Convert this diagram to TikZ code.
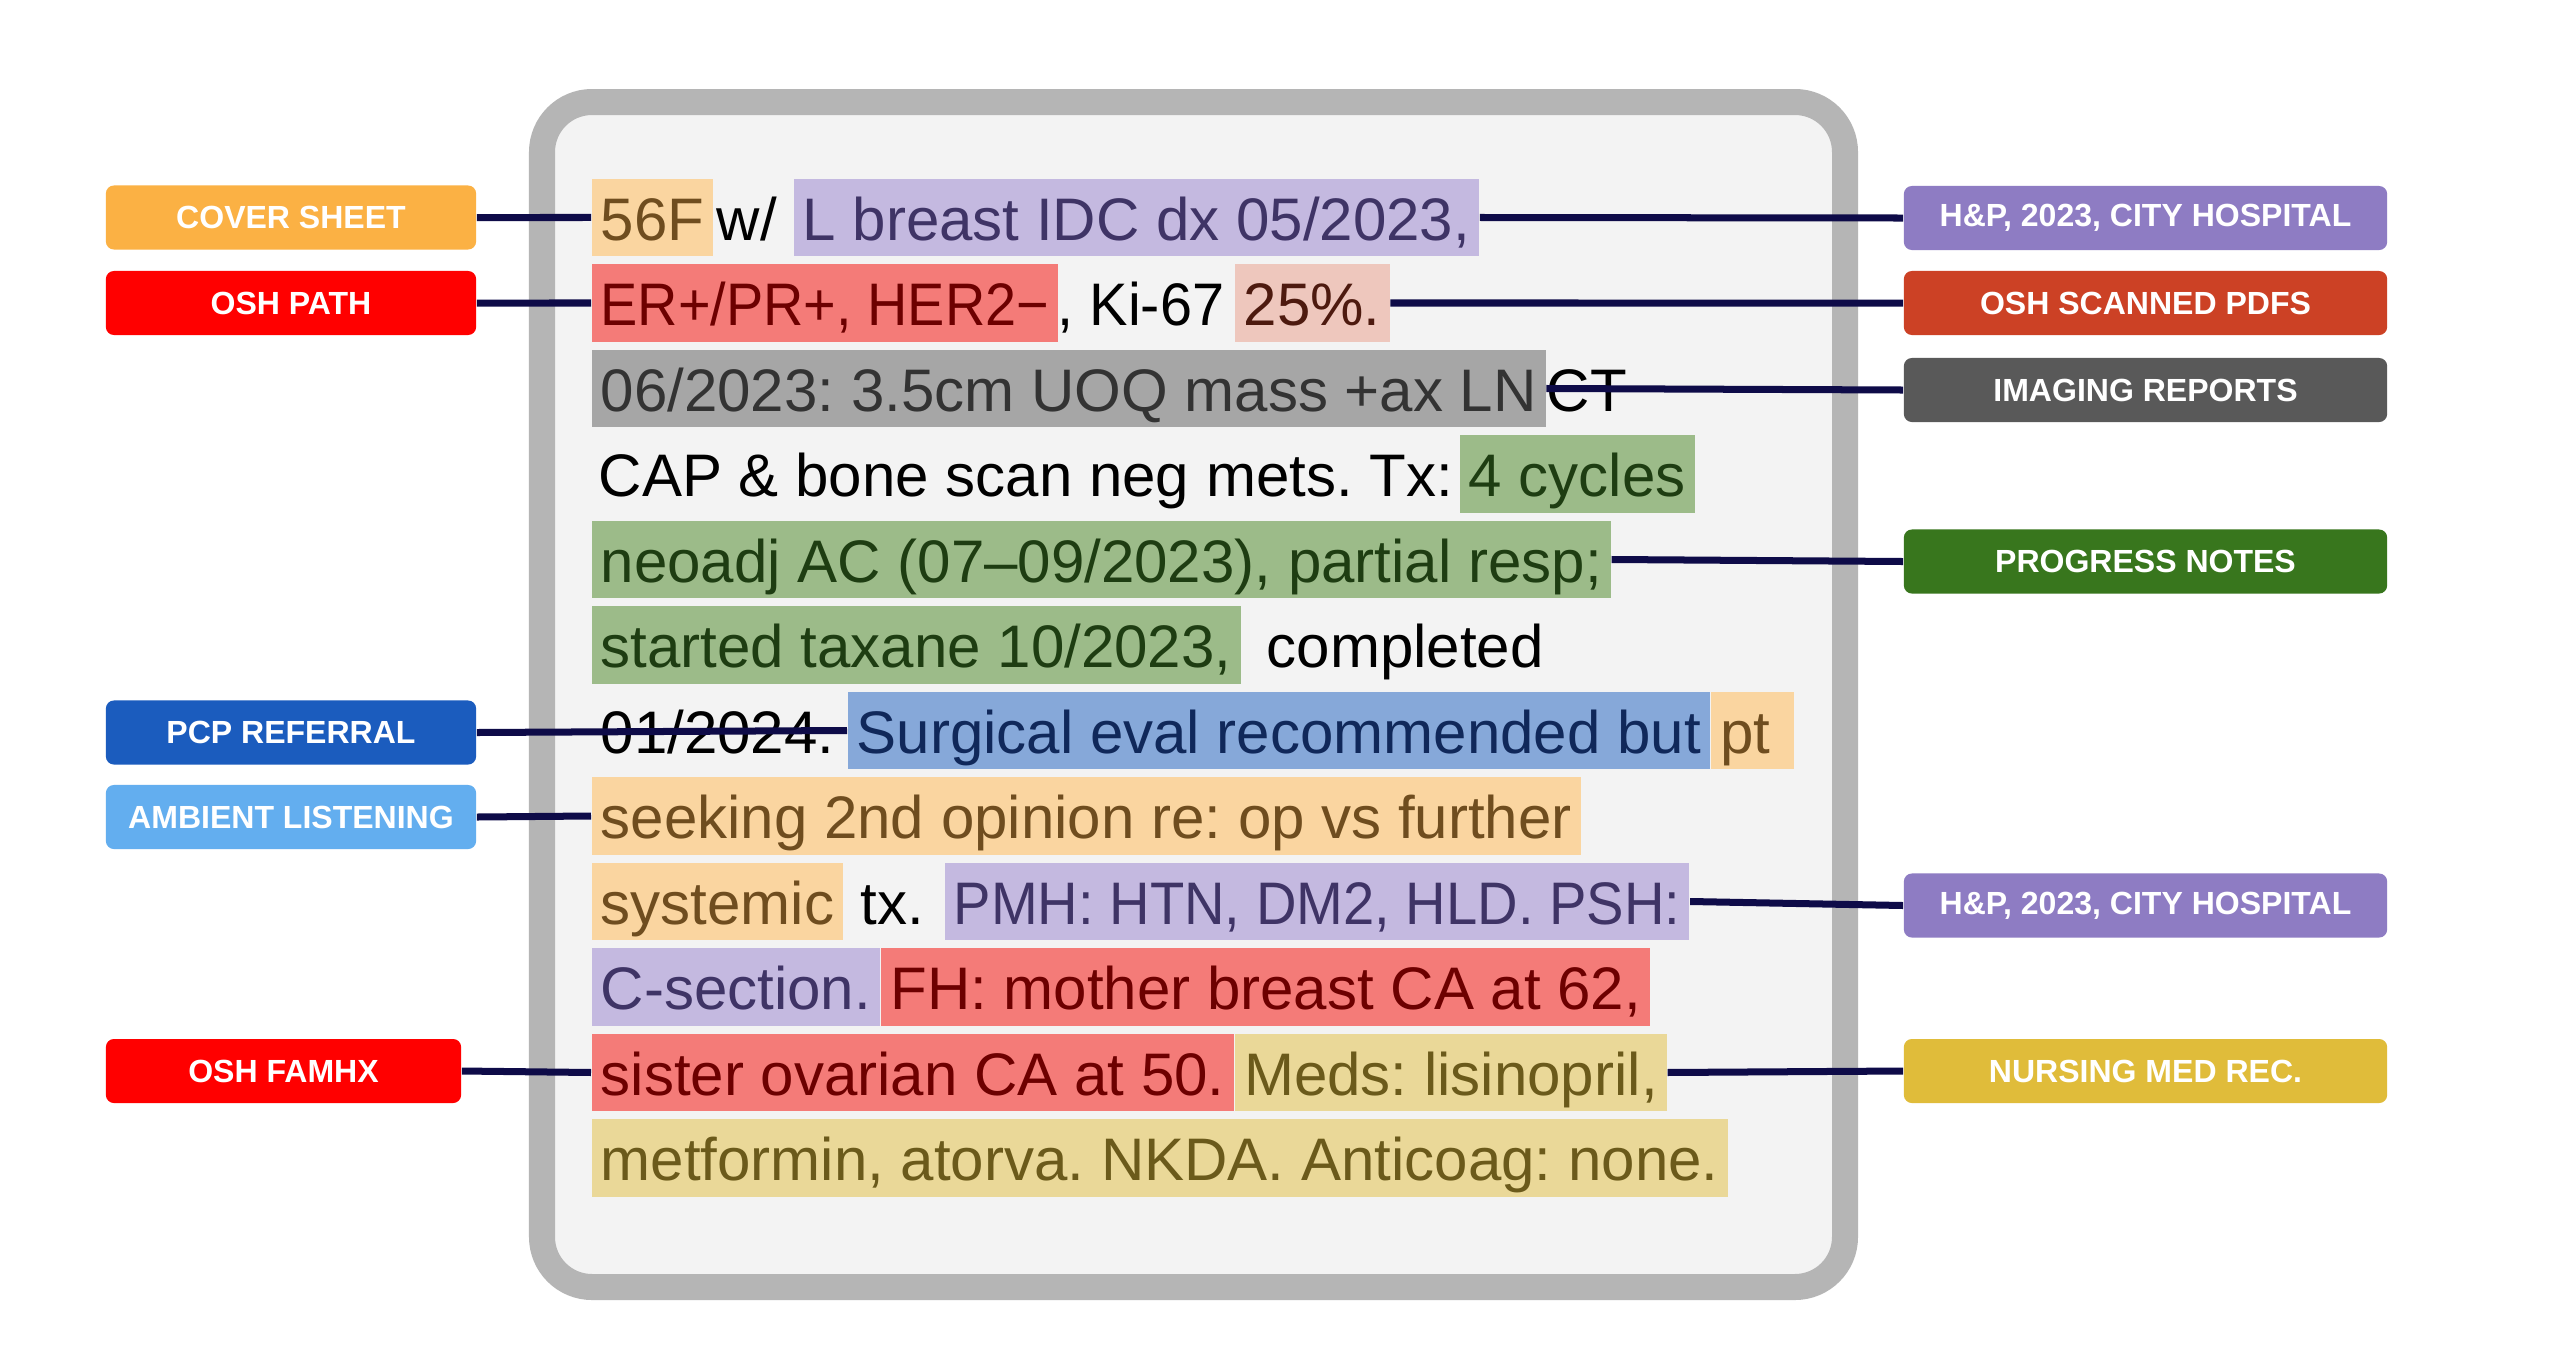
\documentclass[tikz,border=0pt]{standalone}
\usepackage{fontspec}
\usepackage{graphicx}
\setmainfont{Liberation Sans}
\usetikzlibrary{positioning}
\definecolor{frame}{HTML}{B5B5B5}
\definecolor{paper}{HTML}{F3F3F3}
\definecolor{conncol}{HTML}{0E0B48}
\definecolor{hlOr}{HTML}{FAD5A0}
\definecolor{txOr}{HTML}{6F4D1F}
\definecolor{hlLav}{HTML}{C4B9E0}
\definecolor{txLav}{HTML}{3F3466}
\definecolor{hlRed}{HTML}{F47B78}
\definecolor{txRed}{HTML}{6D0000}
\definecolor{hlPink}{HTML}{EEC7BD}
\definecolor{txPink}{HTML}{4D1A0F}
\definecolor{hlGray}{HTML}{A6A6A6}
\definecolor{txGray}{HTML}{333333}
\definecolor{hlGreen}{HTML}{9CBB89}
\definecolor{txGreen}{HTML}{1E3D12}
\definecolor{hlBlue}{HTML}{86A8D9}
\definecolor{txBlue}{HTML}{10285A}
\definecolor{hlKhaki}{HTML}{EAD898}
\definecolor{txKhaki}{HTML}{6B5A1B}
\definecolor{cCover}{HTML}{FBB144}
\definecolor{cRed}{HTML}{FF0000}
\definecolor{cPcp}{HTML}{1B5CBE}
\definecolor{cAmb}{HTML}{63AEEF}
\definecolor{cHP}{HTML}{8E7CC3}
\definecolor{cPdf}{HTML}{CC4125}
\definecolor{cImg}{HTML}{595959}
\definecolor{cProg}{HTML}{38761D}
\definecolor{cNurse}{HTML}{E0BC3A}
\newcommand\mybody{\fontsize{0.6cm}{0.72cm}\selectfont\frenchspacing}
\newcommand\mylbl{\fontsize{0.32cm}{0.4cm}\selectfont\bfseries}
\tikzset{
  seg/.style={inner xsep=0pt, inner ysep=0pt, text height=0.61cm, text depth=0.16cm, anchor=base west, font=\mybody},
  hl/.style 2 args={seg, inner xsep=0.09cm, fill=#1, text=#2},
  plain/.style={seg, text=black},
  lbl/.style={rounded corners=0.08cm, minimum height=0.64cm, text=white, font=\mylbl, inner sep=0pt},
  lleft/.style={lbl, minimum width=3.7cm},
  lright/.style={lbl, minimum width=4.83cm},
  conn/.style={draw=conncol, line width=0.07cm},
}
\begin{document}
\begin{tikzpicture}[x=0.01cm,y=-0.01cm]
\useasboundingbox[fill=white] (0,0) rectangle (2560,1369);
\draw[line width=0.26cm, draw=frame, fill=paper, rounded corners=0.5cm] (542,102) rectangle (1845,1287);

% line 1
\node[hl={hlOr}{txOr}] (a1) at (591,240) {56F};
\node[plain] (a2) at (716,240) {w/};
\node[hl={hlLav}{txLav}] (a3) at (793,240) {L breast IDC dx 05/2023,};
% line 2
\node[hl={hlRed}{txRed}] (b1) at (591,325.5) {\scalebox{0.93}[1]{ER+/PR+, HER2−}};
\node[plain] (b2) at (1057,325.5) {\scalebox{0.96}[1]{, Ki-67}};
\node[hl={hlPink}{txPink}] (b3) at (1234,325.5) {25\%.};
% line 3
\node[hl={hlGray}{txGray}] (c1) at (591,411) {06/2023: 3.5cm UOQ mass +ax LN};
\node[plain] (c2) at (1546,411) {CT};
% line 4
\node[plain] (d1) at (598,496.5) {CAP \& bone scan neg mets. Tx:};
\node[hl={hlGreen}{txGreen}] (d2) at (1459,496.5) {4 cycles};
% line 5
\node[hl={hlGreen}{txGreen}] (e1) at (591,582) {neoadj AC (07–09/2023), partial resp;};
% line 6
\node[hl={hlGreen}{txGreen}] (f1) at (591,667.5) {started taxane 10/2023,};
\node[plain] (f2) at (1266,667.5) {completed};
% line 7
\node[plain] (g1) at (600,753) {01/2024.};
\node[hl={hlBlue}{txBlue}] (g2) at (847,753) {Surgical eval recommended but};
\node[hl={hlOr}{txOr}] (g3) at (g2.base east) {pt\hspace*{0.14cm}};
% line 8
\node[hl={hlOr}{txOr}] (h1) at (591,838.5) {seeking 2nd opinion re: op vs further};
% line 9
\node[hl={hlOr}{txOr}] (i1) at (591,924) {systemic};
\node[plain] (i2) at (860,924) {tx.};
\node[hl={hlLav}{txLav}] (i3) at (944,924) {\scalebox{0.935}[1]{PMH: HTN, DM2, HLD. PSH:}};
% line 10
\node[hl={hlLav}{txLav}] (j1) at (591,1009.5) {C-section.};
\node[hl={hlRed}{txRed}] (j2) at (j1.base east) {FH: mother breast CA at 62,};
% line 11
\node[hl={hlRed}{txRed}] (k1) at (591,1095) {sister ovarian CA at 50.};
\node[hl={hlKhaki}{txKhaki}] (k2) at (k1.base east) {Meds: lisinopril,};
% line 12
\node[hl={hlKhaki}{txKhaki}] (l1) at (591,1180.5) {metformin, atorva. NKDA. Anticoag: none.};

% labels
\node[lleft, fill=cCover] (Lcover) at (291,217.5) {COVER SHEET};
\node[lleft, fill=cRed] (Lpath) at (291,303) {OSH PATH};
\node[lleft, fill=cPcp] (Lpcp) at (291,732.5) {PCP REFERRAL};
\node[lleft, fill=cAmb] (Lamb) at (291,817) {AMBIENT LISTENING};
\node[lbl, fill=cRed, minimum width=3.55cm] (Lfam) at (283.5,1071) {OSH FAMHX};
\node[lright, fill=cHP] (Rhp1) at (2145.5,218) {H\&P, 2023, CITY HOSPITAL};
\node[lright, fill=cPdf] (Rpdf) at (2145.5,303) {OSH SCANNED PDFS};
\node[lright, fill=cImg] (Rimg) at (2145.5,390) {IMAGING REPORTS};
\node[lright, fill=cProg] (Rprog) at (2145.5,561.5) {PROGRESS NOTES};
\node[lright, fill=cHP] (Rhp2) at (2145.5,905.5) {H\&P, 2023, CITY HOSPITAL};
\node[lright, fill=cNurse] (Rnurse) at (2145.5,1071) {NURSING MED REC.};

% connectors
\draw[conn] (Lcover.east) -- (a1.west);
\draw[conn] (Lpath.east) -- (b1.west);
\draw[conn] (Lpcp.east) -- (g2.west);
\draw[conn] (Lamb.east) -- (h1.west);
\draw[conn] (Lfam.east) -- (k1.west);
\draw[conn] (a3.east) -- (Rhp1.west);
\draw[conn] (b3.east) -- (Rpdf.west);
\draw[conn] (c1.east) -- (Rimg.west);
\draw[conn] (e1.east) -- (Rprog.west);
\draw[conn] (i3.east) -- (Rhp2.west);
\draw[conn] (k2.east) -- (Rnurse.west);
\end{tikzpicture}
\end{document}
